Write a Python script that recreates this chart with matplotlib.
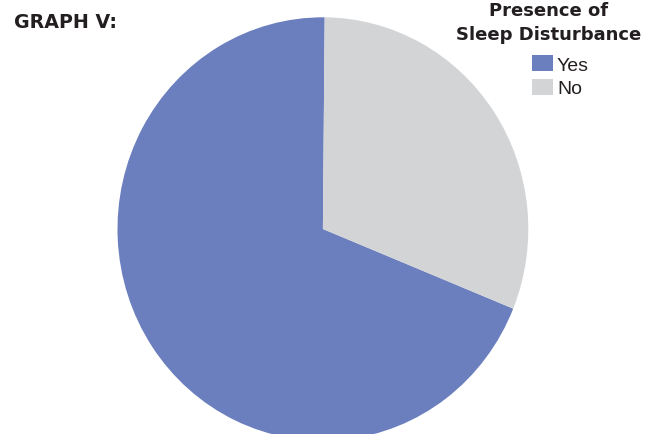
import matplotlib
matplotlib.use("Agg")
import matplotlib.pyplot as plt
from matplotlib.patches import Rectangle

# Presence of sleep disturbance (percent of respondents)
categories = ["Yes", "No"]
shares = [69, 31]
colors = ["#6B7EBE", "#D3D4D6"]

W, H = 659, 435
fig = plt.figure(figsize=(W / 100, H / 100), dpi=100)
fig.patch.set_facecolor("white")


def fx(px):
    return px / W


def fy(py):
    return 1 - py / H


# Pie area: slightly taller than wide, running off the bottom edge
left, right, top, bottom = 117.5, 528.3, 18.3, 441.7
ax = fig.add_axes([fx(left), fy(bottom), fx(right) - fx(left), fy(top) - fy(bottom)])
ax.pie(shares, colors=colors, startangle=89.5, counterclock=True,
       wedgeprops=dict(linewidth=0, antialiased=True))
ax.set_aspect("auto")
ax.set_xlim(-1, 1)
ax.set_ylim(-1, 1)
ax.axis("off")

ink = "#231F20"
fig.text(fx(14), fy(28), "GRAPH V:", fontsize=13.7, fontweight="bold",
         family="DejaVu Sans", color=ink, ha="left", va="baseline")

fig.text(fx(548.5), fy(15.5), "Presence of", fontsize=13, fontweight="bold",
         family="DejaVu Sans", color=ink, ha="center", va="baseline")
fig.text(fx(548.5), fy(40), "Sleep Disturbance", fontsize=13, fontweight="bold",
         family="DejaVu Sans", color=ink, ha="center", va="baseline")

# Legend entries
row_tops = [56, 79.5]
for cat, col, y0 in zip(categories, colors, row_tops):
    fig.add_artist(Rectangle((fx(532), fy(y0 + 16)), fx(20.5), 16 / H,
                             transform=fig.transFigure, facecolor=col,
                             edgecolor="none"))
    fig.text(fx(557), fy(y0 + 15), cat, fontsize=14, family="Liberation Sans",
             color=ink, ha="left", va="baseline")

fig.savefig("out.png", dpi=100, facecolor="white")
